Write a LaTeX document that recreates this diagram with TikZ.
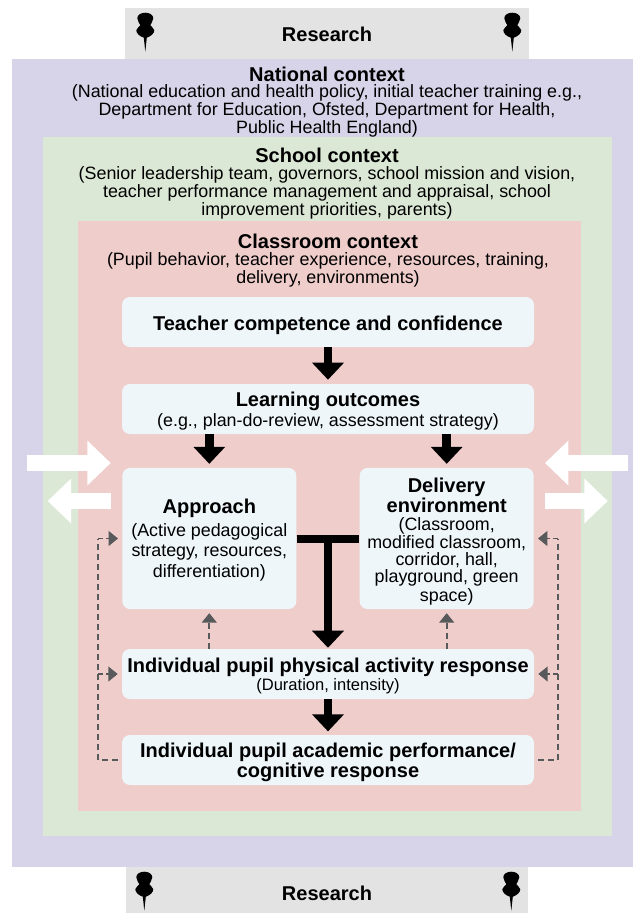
\documentclass[tikz,border=0pt]{standalone}
\usepackage{fontspec}
\setmainfont{Liberation Sans}
\usetikzlibrary{arrows.meta}
\newcommand{\hd}{\fontsize{15pt}{13.5pt}\selectfont\bfseries}
\newcommand{\bd}{\fontsize{13.4pt}{13.5pt}\selectfont}
\newcommand{\topgap}[1]{\rule{0pt}{#1}}
\definecolor{cpurple}{HTML}{D7D3E8}
\definecolor{cgreen}{HTML}{DCE8D6}
\definecolor{cred}{HTML}{EFCDCB}
\definecolor{cgray}{HTML}{E3E3E3}
\definecolor{cbox}{HTML}{EEF6FA}
\definecolor{cdash}{HTML}{58595B}
\tikzset{
  x=0.75pt,y=-0.75pt,
  region/.style={rectangle,draw=none,inner sep=0pt},
  ctext/.style={align=center,inner sep=0pt},
  wbox/.style={rectangle,rounded corners=6pt,fill=cbox,draw=none,inner sep=0pt,align=center},
  widebox/.style={wbox,minimum width=309pt,minimum height=37.5pt},
  tallbox/.style={wbox,minimum width=130.5pt,minimum height=106pt},
  blackarrow/.style={line width=6.6pt,black,-{Triangle[width=23.2pt,length=12.8pt]}},
  whitearrow/.style={line width=12pt,white,-{Triangle[width=32.5pt,length=17.5pt]}},
  dashline/.style={line width=1.3pt,cdash,dash pattern=on 4.5pt off 3pt},
  dasharrow/.style={dashline,-{Triangle[width=11pt,length=7pt]}},
  sidearrow/.style={dasharrow,dash pattern=on 3.5pt off 2.5pt},
  pin/.pic={
    \fill[black] (0,39) -- (-1.5,25) .. controls (-6,23.5) and (-9,20.5) .. (-9,17.5)
      .. controls (-9,15) and (-5.5,14.5) .. (-5,12.5)
      .. controls (-5.5,11) and (-8,8.5) .. (-8,5.5)
      .. controls (-8,2) and (-4,0) .. (0,0)
      .. controls (4,0) and (8,2) .. (8,5.5)
      .. controls (8,8.5) and (5.5,11) .. (5,12.5)
      .. controls (5.5,14.5) and (9,15) .. (9,17.5)
      .. controls (9,20.5) and (6,23.5) .. (1.5,25) -- cycle;
  }
}
\begin{document}
\begin{tikzpicture}
\useasboundingbox (0,0) rectangle (633,913);
% research bands
\node[region,fill=cgray,minimum width=302.5pt,minimum height=38.25pt,font=\hd] (restop) at (327,33.5) {\topgap{12.4pt}Research};
\node[region,fill=cgray,minimum width=302pt,minimum height=34.5pt] (resbot) at (327,890) {};
\node[ctext,font=\hd] (resbottext) at (327,893) {Research};
% nested contexts
\node[region,fill=cpurple,minimum width=465.75pt,minimum height=606pt] (national) at (322.5,463) {};
\node[region,fill=cgreen,minimum width=426.75pt,minimum height=524.25pt] (school) at (327.5,486.5) {};
\node[region,fill=cred,minimum width=377.25pt,minimum height=442.5pt] (classroom) at (329.5,515.5) {};
% pins
\pic at (145.3,12.7) {pin};
\pic at (512.3,12.7) {pin};
\pic at (144.3,871.7) {pin};
\pic at (511.3,871.7) {pin};
% context texts
\node[ctext] (nationaltext) at (327,102) {{\hd National context}\\[0.5pt]\bd (National education and health policy, initial teacher training e.g.,\\\bd Department for Education, Ofsted, Department for Health,\\\bd Public Health England)};
\node[ctext] (schooltext) at (327,183.5) {{\hd School context}\\[0.5pt]\bd (Senior leadership team, governors, school mission and vision,\\\bd teacher performance management and appraisal, school\\\bd improvement priorities, parents)};
\node[ctext] (classroomtext) at (328,261) {{\hd Classroom context}\\[0.8pt]\bd (Pupil behavior, teacher experience, resources, training,\\\bd delivery, environments)};
% boxes
\node[widebox,font=\hd] (teacher) at (328,322) {\topgap{15.4pt}Teacher competence and confidence};
\node[widebox] (outcomes) at (328,409) {{\hd\topgap{13.9pt}Learning outcomes}\\[0.5pt]\bd (e.g., plan-do-review, assessment strategy)};
\node[tallbox] (approach) at (209.3,538.5) {{\hd\topgap{13.9pt}Approach}\\[3pt]\bd (Active pedagogical\\[2.8pt]\bd strategy, resources,\\[2.8pt]\bd differentiation)};
\node[tallbox] (delivery) at (446.7,538.5) {{\hd\topgap{15.6pt}Delivery}\\[0pt]{\hd environment}\\[1pt]\bd (Classroom,\\[0.6pt]\bd modified classroom,\\[0.6pt]\bd corridor, hall,\\[0.6pt]\bd playground, green\\[0.6pt]\bd space)};
\node[widebox] (physical) at (328,674) {{\hd\topgap{13.2pt}Individual pupil physical activity response}\\[0.5pt]\fontsize{12.4pt}{12pt}\selectfont (Duration, intensity)};
\node[widebox,font=\hd] (academic) at (328,760) {\topgap{13.9pt}Individual pupil academic performance/\\cognitive response};
% black connectors
\draw[blackarrow,shorten >=3pt] (teacher.south) -- (outcomes.north);
\draw[blackarrow,shorten >=2.8pt] (outcomes.south -| approach.south) -- (approach.north);
\draw[blackarrow,shorten >=2.8pt] (outcomes.south -| delivery.south) -- (delivery.north);
\draw[line width=6pt,black] (approach.east) -- (delivery.west);
\coordinate (tee) at (328,538.5);
\draw[blackarrow,shorten >=0.7pt] (tee) -- (physical.north);
\draw[blackarrow,shorten >=2.5pt] (physical.south) -- (academic.north);
% white connectors
\coordinate (wa) at (27,463); \coordinate (wb) at (110.7,463);
\coordinate (wc) at (110.7,501); \coordinate (wd) at (47.7,501);
\coordinate (we) at (628,463); \coordinate (wf) at (545,463);
\coordinate (wg) at (544.7,501); \coordinate (wh) at (607.7,501);
\draw[whitearrow] (wa) -- (wb);
\draw[whitearrow] (wc) -- (wd);
\draw[whitearrow] (we) -- (wf);
\draw[whitearrow] (wg) -- (wh);
% dashed feedback
\coordinate (lrail) at (98,538.5);
\coordinate (rrail) at (558,538.5);
\draw[dashline,shorten <=3pt] (academic.west) -- (academic.west -| lrail) -- (lrail);
\draw[sidearrow,shorten >=3pt] (lrail) -- (approach.west);
\draw[sidearrow,shorten >=3pt] (physical.west -| lrail) -- (physical.west);
\draw[dashline,shorten <=3pt] (academic.east) -- (academic.east -| rrail) -- (rrail);
\draw[sidearrow,shorten >=3pt] (rrail) -- (delivery.east);
\draw[sidearrow,shorten >=3pt] (physical.east -| rrail) -- (physical.east);
\draw[dasharrow,shorten >=2.8pt] (physical.north -| approach.north) -- (approach.south);
\draw[dasharrow,shorten >=2.8pt] (physical.north -| delivery.north) -- (delivery.south);
\end{tikzpicture}
\end{document}
